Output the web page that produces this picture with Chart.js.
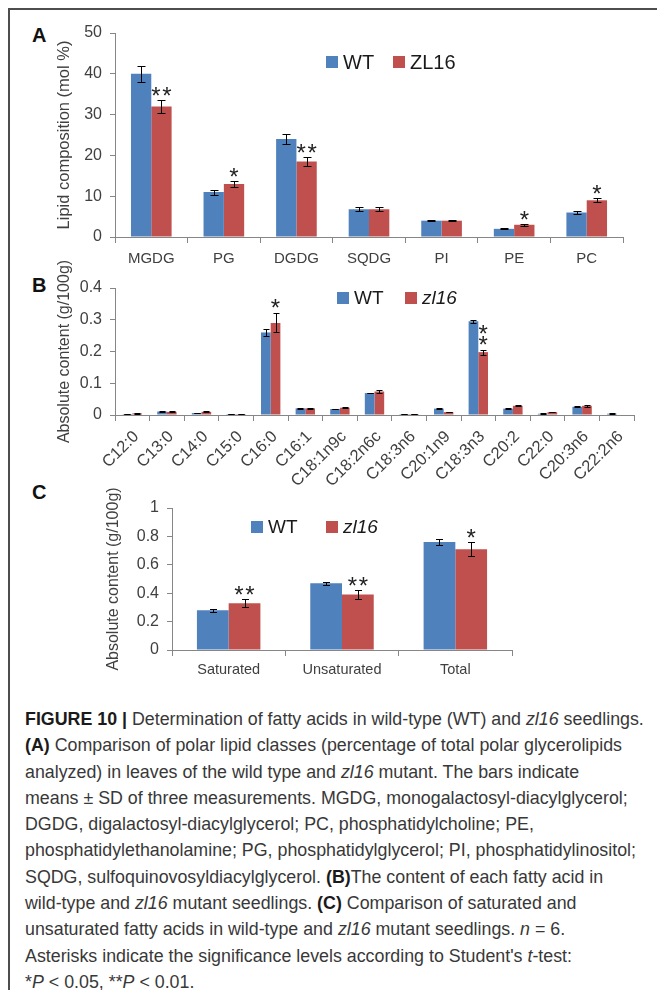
<!DOCTYPE html>
<html>
<head>
<meta charset="utf-8">
<script src="https://cdn.jsdelivr.net/npm/chart.js@4.4.0/dist/chart.umd.min.js"></script>
<style>
    body { margin: 0; background: #fff; width: 657px; height: 990px; overflow: hidden; position: relative; font-family: "Liberation Sans", Arial, sans-serif; }
    .frame { position: absolute; left: 8px; top: 8px; width: 720px; height: 1000px; border-top: 2px solid #4d4d4d; border-left: 2px solid #4d4d4d; }
    canvas { position: absolute; left: 0; }
    .panel { position: absolute; left: 32px; font: bold 20px "Liberation Sans", Arial, sans-serif; color: #111; }
    .caption { position: absolute; left: 25px; top: 706px; font-size: 16px; line-height: 26.3px; color: #383838; white-space: nowrap; }
    .caption b { color: #1a1a1a; }
</style>
</head>
<body>
<div class="frame"></div>
<div class="panel" style="top:24px">A</div>
<div class="panel" style="top:274px">B</div>
<div class="panel" style="top:481px">C</div>
<canvas id="chartA" width="657" height="280" style="top:0"></canvas>
<canvas id="chartB" width="657" height="230" style="top:255px"></canvas>
<canvas id="chartC" width="657" height="200" style="top:485px"></canvas>
<div class="caption" id="caption">
<span id="firstLine"><b>FIGURE 10 |</b> Determination of fatty acids in wild-type (WT) and <i>zl16</i> seedlings.</span><br>
<b>(A)</b> Comparison of polar lipid classes (percentage of total polar glycerolipids<br>
analyzed) in leaves of the wild type and <i>zl16</i> mutant. The bars indicate<br>
means &plusmn; SD of three measurements. MGDG, monogalactosyl-diacylglycerol;<br>
DGDG, digalactosyl-diacylglycerol; PC, phosphatidylcholine; PE,<br>
phosphatidylethanolamine; PG, phosphatidylglycerol; PI, phosphatidylinositol;<br>
SQDG, sulfoquinovosyldiacylglycerol. <b>(B)</b>The content of each fatty acid in<br>
wild-type and <i>zl16</i> mutant seedlings. <b>(C)</b> Comparison of saturated and<br>
unsaturated fatty acids in wild-type and <i>zl16</i> mutant seedlings. <i>n</i> = 6.<br>
Asterisks indicate the significance levels according to Student's <i>t</i>-test:<br>
*<i>P</i> &lt; 0.05, **<i>P</i> &lt; 0.01.
</div>
<script>
// panel A: polar lipids (mol %)
const catsA = ['MGDG', 'PG', 'DGDG', 'SQDG', 'PI', 'PE', 'PC'];
const wtA = [40, 11, 24, 6.8, 4, 2, 6];
const wtErrA = [2, 0.6, 1.2, 0.5, 0.2, 0.15, 0.3];
const zlA = [32, 13, 18.5, 6.8, 4, 3, 9];
const zlErrA = [1.6, 0.8, 1, 0.5, 0.2, 0.2, 0.5];
const sigA = ['**', '*', '**', '', '', '*', '*'];
const ticksA = [0, 10, 20, 30, 40, 50];

// panel B: fatty acids (g/100g)
const catsB = ['C12:0', 'C13:0', 'C14:0', 'C15:0', 'C16:0', 'C16:1', 'C18:1n9c', 'C18:2n6c', 'C18:3n6', 'C20:1n9', 'C18:3n3', 'C20:2', 'C22:0', 'C20:3n6', 'C22:2n6'];
const wtB = [0.003, 0.011, 0.006, 0.003, 0.26, 0.021, 0.019, 0.069, 0.003, 0.02, 0.295, 0.02, 0.004, 0.026, 0.004];
const wtErrB = [0.001, 0.001, 0.001, 0.0005, 0.01, 0.001, 0.001, 0.001, 0.0005, 0.001, 0.004, 0.001, 0.001, 0.002, 0.001];
const zlB = [0.005, 0.01, 0.01, 0.003, 0.29, 0.021, 0.023, 0.074, 0.003, 0.009, 0.198, 0.029, 0.009, 0.029, 0];
const zlErrB = [0.001, 0.002, 0.002, 0.0005, 0.03, 0.001, 0.002, 0.005, 0.0005, 0.001, 0.008, 0.002, 0.001, 0.004, 0];
const sigB = ['', '', '', '', '*', '', '', '', '', '', '**', '', '', '', ''];
const ticksB = [0, 0.1, 0.2, 0.3, 0.4];

// panel C: saturated / unsaturated
const catsC = ['Saturated', 'Unsaturated', 'Total'];
const wtC = [0.28, 0.47, 0.76];
const wtErrC = [0.01, 0.01, 0.02];
const zlC = [0.33, 0.39, 0.71];
const zlErrC = [0.03, 0.03, 0.05];
const sigC = ['**', '**', '*'];
const ticksC = [0, 0.2, 0.4, 0.6, 0.8, 1];

const FONT = '"Liberation Sans", Arial, sans-serif';
const BLUE = '#4F81BD';
const RED = '#C0504D';
const AXIS = '#868686';
const TEXT = '#404040';

const errorBars = {
    id: 'errorBars',
    afterDatasetsDraw(chart, args, opts) {
        const ctx = chart.ctx;
        const y = chart.scales.y;
        ctx.save();
        ctx.strokeStyle = '#000';
        ctx.lineWidth = 1;
        chart.data.datasets.forEach((ds, di) => {
            chart.getDatasetMeta(di).data.forEach((bar, i) => {
                const e = ds.errors[i];
                if (!e) return;
                const x = Math.round(bar.x) + 0.5;
                const yt = Math.round(y.getPixelForValue(ds.data[i] + e)) + 0.5;
                const yb = Math.round(y.getPixelForValue(ds.data[i] - e)) + 0.5;
                ctx.beginPath();
                ctx.moveTo(x, yt); ctx.lineTo(x, yb);
                ctx.moveTo(x - opts.cap, yt); ctx.lineTo(x + opts.cap, yt);
                ctx.moveTo(x - opts.cap, yb); ctx.lineTo(x + opts.cap, yb);
                ctx.stroke();
            });
        });

        // significance stars over the mutant bars
        const ds = chart.data.datasets[1];
        ctx.fillStyle = '#222';
        ctx.textAlign = 'center';
        ctx.textBaseline = 'alphabetic';
        ctx.font = opts.starSize + 'px ' + FONT;
        chart.getDatasetMeta(1).data.forEach((bar, i) => {
            const s = opts.sig[i];
            if (!s) return;
            const top = y.getPixelForValue(ds.data[i] + ds.errors[i]) - opts.starGap;
            const lift = opts.starSize * 0.58;
            for (let k = 0; k < s.length; k++) {
                if (opts.stacked) {
                    ctx.fillText('*', bar.x, top - k * opts.starStep + lift);
                } else {
                    const dx = (k - (s.length - 1) / 2) * opts.starStep;
                    ctx.fillText('*', bar.x + dx, top + lift);
                }
            }
        });
        ctx.restore();
    }
};

const legendBox = {
    id: 'legendBox',
    afterDraw(chart, args, opts) {
        const ctx = chart.ctx;
        ctx.save();
        ctx.textBaseline = 'middle';
        ctx.textAlign = 'left';
        opts.items.forEach(item => {
            ctx.fillStyle = item.color;
            ctx.fillRect(item.x, opts.y - opts.box / 2, opts.box, opts.box);
            ctx.fillStyle = '#1a1a1a';
            ctx.font = (item.italic ? 'italic ' : '') + opts.size + 'px ' + FONT;
            ctx.fillText(item.text, item.x + opts.box + 5, opts.y + 1);
        });
        ctx.restore();
    }
};

function makeChart(id, cfg) {
    return new Chart(document.getElementById(id), {
        type: 'bar',
        data: {
            labels: cfg.labels,
            datasets: [
                { label: 'WT', data: cfg.wt, errors: cfg.wtErr, backgroundColor: BLUE },
                { label: cfg.mutant, data: cfg.zl, errors: cfg.zlErr, backgroundColor: RED }
            ]
        },
        options: {
            responsive: false,
            animation: false,
            devicePixelRatio: 1,
            datasets: { bar: { categoryPercentage: 0.56, barPercentage: 1 } },
            layout: { padding: cfg.padding },
            plugins: {
                legend: { display: false },
                tooltip: { enabled: false },
                errorBars: { cap: cfg.cap, sig: cfg.sig, starSize: 24, starGap: cfg.starGap || 10, starStep: cfg.starStep || 10, stacked: cfg.stacked },
                legendBox: cfg.legend
            },
            scales: {
                x: {
                    grid: { drawOnChartArea: false, tickLength: 6, color: AXIS, offset: true },
                    border: { color: AXIS },
                    ticks: { color: TEXT, font: { family: FONT, size: cfg.xFont }, padding: cfg.xPad, labelOffset: cfg.labelOffset || 0, autoSkip: false, minRotation: cfg.rotation, maxRotation: cfg.rotation },
                    afterFit: s => { s.height = cfg.xHeight; }
                },
                y: {
                    min: cfg.ticks[0],
                    max: cfg.ticks[cfg.ticks.length - 1],
                    afterBuildTicks: s => { s.ticks = cfg.ticks.map(v => ({ value: v })); },
                    grid: { drawOnChartArea: false, tickLength: 5, color: AXIS },
                    border: { color: AXIS },
                    ticks: { color: TEXT, font: { family: FONT, size: 16 }, padding: 8, callback: v => String(v) },
                    title: { display: true, text: cfg.yTitle, color: TEXT, font: { family: FONT, size: cfg.titleSize }, padding: { top: 3, bottom: 0 } },
                    afterFit: s => { s.width = cfg.yWidth; }
                }
            }
        },
        plugins: [errorBars, legendBox]
    });
}

makeChart('chartA', {
    labels: catsA, wt: wtA, wtErr: wtErrA, zl: zlA, zlErr: zlErrA, sig: sigA, ticks: ticksA,
    mutant: 'ZL16', yTitle: 'Lipid composition (mol %)', titleSize: 16.5,
    padding: { left: 52, top: 33, right: 34, bottom: 0 }, yWidth: 63, xHeight: 43,
    xFont: 15, xPad: 7, rotation: 0, cap: 4, starStep: 11,
    legend: { y: 62, box: 12, size: 20, items: [
        { x: 326, color: BLUE, text: 'WT' },
        { x: 393, color: RED, text: 'ZL16' }
    ] }
});

makeChart('chartB', {
    labels: catsB, wt: wtB, wtErr: wtErrB, zl: zlB, zlErr: zlErrB, sig: sigB, ticks: ticksB,
    mutant: 'zl16', yTitle: 'Absolute content (g/100g)', titleSize: 16,
    padding: { left: 52, top: 33, right: 23, bottom: 0 }, yWidth: 63, xHeight: 70,
    xFont: 16.5, xPad: 6, labelOffset: 4, rotation: 45, cap: 3, stacked: true, starGap: 11, starStep: 11,
    legend: { y: 43, box: 12, size: 19, items: [
        { x: 337, color: BLUE, text: 'WT' },
        { x: 405, color: RED, text: 'zl16', italic: true }
    ] }
});

makeChart('chartC', {
    labels: catsC, wt: wtC, wtErr: wtErrC, zl: zlC, zlErr: zlErrC, sig: sigC, ticks: ticksC,
    mutant: 'zl16', yTitle: 'Absolute content (g/100g)', titleSize: 16,
    padding: { left: 101, top: 23, right: 145, bottom: 0 }, yWidth: 71, xHeight: 35,
    xFont: 14.5, xPad: 5, rotation: 0, cap: 3.5, starStep: 11,
    legend: { y: 42, box: 12, size: 19, items: [
        { x: 251, color: BLUE, text: 'WT' },
        { x: 326, color: RED, text: 'zl16', italic: true }
    ] }
});

// fit caption width to the reference line length
const first = document.getElementById('firstLine');
const caption = document.getElementById('caption');
const w = first.getBoundingClientRect().width;
caption.style.fontSize = (16 * 619 / w).toFixed(2) + 'px';
</script>
</body>
</html>
